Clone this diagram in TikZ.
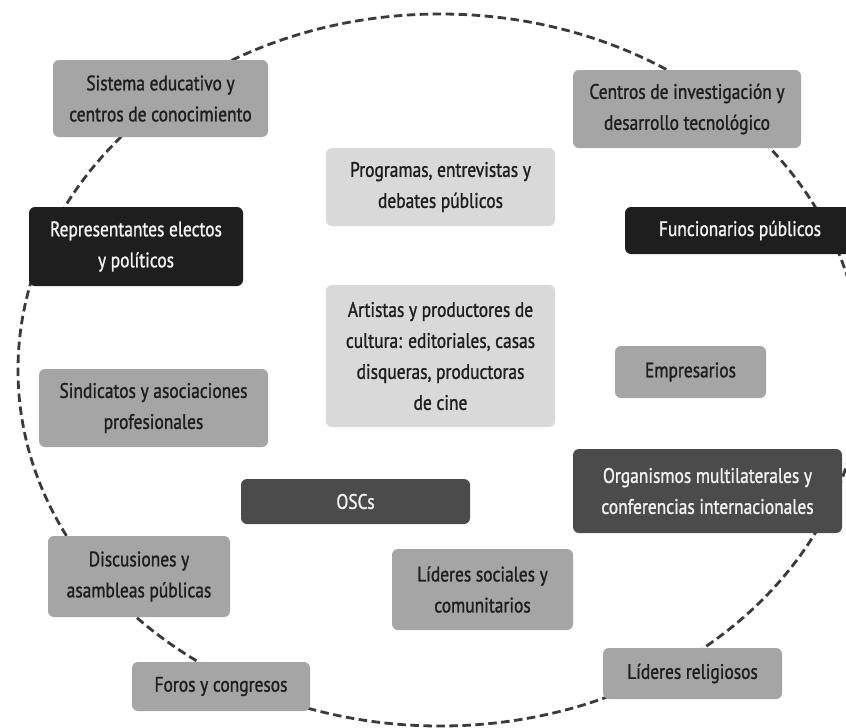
\documentclass[tikz,border=0pt]{standalone}
\usepackage{fontspec}
\setmainfont{PT Sans}[FakeStretch=0.83, FakeBold=1.2]
\definecolor{ringc}{HTML}{3A3A3A}
\definecolor{midg}{HTML}{A5A5A5}
\definecolor{lightg}{HTML}{D9D9D9}
\definecolor{darkg}{HTML}{4B4B4B}
\definecolor{blackg}{HTML}{1E1E1E}
\definecolor{txtd}{HTML}{1E1E1E}
\definecolor{txtl}{HTML}{F2F2F2}
\tikzset{
  box/.style={rounded corners=6pt, inner sep=0pt, align=center,
    font=\fontsize{21}{31}\selectfont},
  midbox/.style={box, fill=midg, text=txtd},
  lightbox/.style={box, fill=lightg, text=txtd},
  darkbox/.style={box, fill=darkg, text=txtl},
  blackbox/.style={box, fill=blackg, text=txtl},
  ring/.style={draw=ringc, line width=2.8pt, dash pattern=on 8.5pt off 4.5pt}
}
\newcommand{\bx}[7]{% style, name, x1, y1, x2, y2, text
  \node[#1, minimum width=#5pt-#3pt, minimum height=#6pt-#4pt]
    (#2) at ({(#3+#5)/2},{(#4+#6)/2}) {#7};}
\begin{document}
\begin{tikzpicture}[x=1pt, y=-1pt]
\useasboundingbox (0,0) rectangle (846,728);
\clip (0,0) rectangle (846,728);
\fill[white] (0,0) rectangle (846,728);
\draw[ring] (440,370) ellipse [x radius=422pt, y radius=356pt];
\bx{midbox}{sis}{53}{60}{268}{137}{Sistema educativo y\\centros de conocimiento}
\bx{midbox}{cen}{573}{70}{801}{148}{Centros de investigación y\\desarrollo tecnológico}
\bx{lightbox}{pro}{326}{148}{555}{226}{Programas, entrevistas y\\debates públicos}
\bx{blackbox}{rep}{29}{207}{243}{286}{Representantes electos\\y políticos}
\bx{blackbox}{fun}{625}{207}{855}{254}{Funcionarios públicos}
\bx{lightbox}{art}{326}{285}{555}{427}{Artistas y productores de\\cultura: editoriales, casas\\disqueras, productoras\\de cine}
\bx{midbox}{emp}{615}{346}{766}{398}{Empresarios}
\bx{midbox}{sin}{39}{369}{268}{447}{Sindicatos y asociaciones\\profesionales}
\bx{darkbox}{osc}{241}{479}{470}{524}{OSCs}
\bx{darkbox}{org}{573}{449}{842}{533}{Organismos multilaterales y\\conferencias internacionales}
\bx{midbox}{dis}{48}{536}{230}{617}{Discusiones y\\asambleas públicas}
\bx{midbox}{lso}{392}{549}{573}{630}{Líderes sociales y\\comunitarios}
\bx{midbox}{for}{132}{662}{310}{711}{Foros y congresos}
\bx{midbox}{lre}{603}{648}{782}{699}{Líderes religiosos}
\end{tikzpicture}
\end{document}
